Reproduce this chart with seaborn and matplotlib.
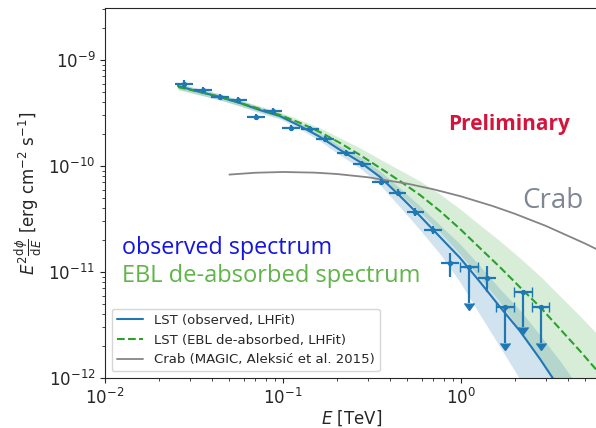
import numpy as np
import pandas as pd
import matplotlib
matplotlib.use("Agg")
import matplotlib.pyplot as plt
import seaborn as sns

# ---------------- data ----------------
# flux points, E [TeV], E^2 dN/dE [erg cm^-2 s^-1]
pt_E = [0.0279, 0.0354, 0.0443, 0.0557, 0.0703, 0.0883, 0.111, 0.142, 0.172,
        0.225, 0.277, 0.353, 0.440, 0.555, 0.698, 0.867, 1.394]
pt_F = [5.90e-10, 5.21e-10, 4.51e-10, 4.20e-10, 2.92e-10, 3.30e-10, 2.27e-10,
        2.22e-10, 1.79e-10, 1.32e-10, 1.04e-10, 7.03e-11, 5.62e-11, 3.66e-11,
        2.49e-11, 1.21e-11, 8.73e-12]
pt_err_lo = [5.0e-11, 3.5e-11, 2.8e-11, 2.5e-11, 1.8e-11, 2.0e-11, 1.4e-11,
             1.3e-11, 1.0e-11, 8.0e-12, 6.5e-12, 4.5e-12, 3.8e-12, 3.0e-12,
             2.2e-12, 3.06e-12, 2.21e-12]
pt_err_hi = [5.5e-11, 3.8e-11, 3.0e-11, 2.7e-11, 1.9e-11, 2.1e-11, 1.5e-11,
             1.4e-11, 1.1e-11, 8.5e-12, 7.0e-12, 5.0e-12, 4.2e-12, 3.3e-12,
             2.4e-12, 2.90e-12, 2.67e-12]
# upper limits
ul_E = [1.113, 1.766, 2.22, 2.80]
ul_F = [1.11e-11, 4.71e-12, 6.43e-12, 4.71e-12]
ul_len = [5.97e-12, 2.56e-12, 3.38e-12, 2.56e-12]

# observed fit (LHFit) and its band
fit_E = [0.0257, 0.0342, 0.0443, 0.0573, 0.0743, 0.0961, 0.1247, 0.1615, 0.209,
         0.271, 0.351, 0.454, 0.589, 0.762, 0.987, 1.279, 1.656, 2.14, 2.78,
         3.60, 4.66]
obs_F = [5.69e-10, 4.99e-10, 4.48e-10, 3.93e-10, 3.37e-10, 2.96e-10, 2.38e-10,
         1.88e-10, 1.42e-10, 1.09e-10, 7.87e-11, 5.21e-11, 3.37e-11, 2.14e-11,
         1.36e-11, 8.05e-12, 4.68e-12, 2.78e-12, 1.51e-12, 7.87e-13, 4.02e-13]
obs_lo = [5.33e-10, 4.68e-10, 4.20e-10, 3.68e-10, 3.16e-10, 2.78e-10, 2.23e-10,
          1.72e-10, 1.27e-10, 9.57e-11, 6.62e-11, 4.10e-11, 2.49e-11, 1.48e-11,
          8.05e-12, 3.94e-12, 1.96e-12, 9.77e-13, 4.57e-13, 2.05e-13, 8.79e-14]
obs_hi = [6.07e-10, 5.32e-10, 4.78e-10, 4.19e-10, 3.60e-10, 3.16e-10, 2.54e-10,
          2.05e-10, 1.55e-10, 1.22e-10, 8.97e-11, 6.19e-11, 4.19e-11, 2.77e-11,
          1.84e-11, 1.14e-11, 6.92e-12, 4.38e-12, 2.54e-12, 1.45e-12, 7.87e-13]

# EBL de-absorbed fit and its band
deabs_E = fit_E + [6.04]
deabs_F = [5.56e-10, 4.99e-10, 4.48e-10, 3.93e-10, 3.45e-10, 3.03e-10, 2.55e-10,
           2.09e-10, 1.65e-10, 1.27e-10, 9.57e-11, 7.21e-11, 5.32e-11, 3.76e-11,
           2.55e-11, 1.68e-11, 1.11e-11, 7.21e-12, 4.68e-12, 2.90e-12, 1.80e-12,
           1.09e-12]
deabs_lo = [5.21e-10, 4.68e-10, 4.20e-10, 3.68e-10, 3.24e-10, 2.84e-10, 2.39e-10,
            1.92e-10, 1.48e-10, 1.09e-10, 7.71e-11, 5.43e-11, 3.68e-11, 2.38e-11,
            1.48e-11, 8.77e-12, 5.21e-12, 2.83e-12, 1.51e-12, 7.87e-13, 4.20e-13,
            2.19e-13]
deabs_hi = [5.93e-10, 5.32e-10, 4.78e-10, 4.19e-10, 3.68e-10, 3.23e-10, 2.72e-10,
            2.29e-10, 1.84e-10, 1.48e-10, 1.16e-10, 9.16e-11, 7.21e-11, 5.43e-11,
            3.94e-11, 2.77e-11, 1.96e-11, 1.36e-11, 9.16e-12, 5.93e-12, 3.85e-12,
            2.44e-12]

# Crab reference spectrum
crab_E = [0.05, 0.07, 0.1, 0.15, 0.2, 0.3, 0.5, 0.7, 1.0, 1.5, 2.0, 3.0, 5.0, 7.0, 10.0]
crab_F = [8.30e-11, 8.64e-11, 8.78e-11, 8.66e-11, 8.41e-11, 7.83e-11, 6.81e-11,
          6.03e-11, 5.17e-11, 4.20e-11, 3.55e-11, 2.72e-11, 1.85e-11, 1.40e-11,
          1.01e-11]

labels = ["LST (observed, LHFit)", "LST (EBL de-absorbed, LHFit)",
          "Crab (MAGIC, Aleksić et al. 2015)"]

# ---------------- style ----------------
sns.set_style("ticks")
plt.rcParams["font.family"] = ["DejaVu Sans"]
plt.rcParams["xtick.direction"] = "out"
plt.rcParams["ytick.direction"] = "out"

BLUE = "#1f77b4"
GREEN = "#2ca02c"
GRAY = "#858585"
BIN_HALF_DEX = 0.05
ANN_FONT = ["Open Sans", "DejaVu Sans"]

fig = plt.figure(figsize=(5.96, 4.28), dpi=100)
ax = fig.add_axes([105 / 596, 50 / 428, 493 / 596, 370 / 428])

# bands
ax.fill_between(fit_E, obs_lo, obs_hi, color=BLUE, alpha=0.2, linewidth=0)
ax.fill_between(deabs_E, deabs_lo, deabs_hi, color=GREEN, alpha=0.18, linewidth=0)

# lines via seaborn
df_obs = pd.DataFrame({"E": fit_E, "F": obs_F})
df_deabs = pd.DataFrame({"E": deabs_E, "F": deabs_F})
df_crab = pd.DataFrame({"E": crab_E, "F": crab_F})
sns.lineplot(data=df_obs, x="E", y="F", ax=ax, color=BLUE, lw=1.5,
             label=labels[0], sort=False)
sns.lineplot(data=df_deabs, x="E", y="F", ax=ax, color=GREEN, lw=1.5,
             linestyle="--", label=labels[1], sort=False)
sns.lineplot(data=df_crab, x="E", y="F", ax=ax, color=GRAY, lw=1.3,
             label=labels[2], sort=False)

# flux points
pE = np.array(pt_E)
xerr = [pE * (1 - 10 ** -BIN_HALF_DEX), pE * (10 ** BIN_HALF_DEX - 1)]
ax.errorbar(pt_E, pt_F, yerr=[pt_err_lo, pt_err_hi], xerr=xerr, fmt="o",
            color=BLUE, ms=2.8, elinewidth=1.6, capsize=0)
uE = np.array(ul_E)
uxerr = [uE * (1 - 10 ** -BIN_HALF_DEX), uE * (10 ** BIN_HALF_DEX - 1)]
ax.errorbar(ul_E, ul_F, yerr=[ul_len, np.zeros(len(ul_len))], xerr=uxerr,
            uplims=True, fmt="o", color=BLUE, ms=2.8, elinewidth=1.6,
            capsize=3.5)

ax.set_xscale("log")
ax.set_yscale("log")
ax.set_xlim(0.01, 10 ** ((598 - 105) / 178 - 2))
ax.set_ylim(1e-12, 10 ** (-9 + 52 / 106))
ax.set_xlabel(r"$E$ [TeV]", fontsize=12, labelpad=0.5)
ax.set_ylabel(r"$E^2\frac{\mathrm{d}\phi}{\mathrm{d}E}$ [erg cm$^{-2}$ s$^{-1}$]",
              fontsize=12, labelpad=2)
ax.tick_params(axis="both", which="major", labelsize=12)

leg = ax.legend(loc="lower left", fontsize=9.5, frameon=True)

# annotations
ax.text(0.819, 0.686, "Preliminary", transform=ax.transAxes, color="#d4143c",
        fontsize=15, fontweight="bold", family=ANN_FONT,
        ha="center", va="center")
ax.text(0.909, 0.478, "Crab", transform=ax.transAxes, color="#7f8694",
        fontsize=20, family=ANN_FONT, ha="center", va="center")
ax.text(0.0345, 0.351, "observed spectrum", transform=ax.transAxes,
        color="#1515e0", fontsize=16.8, family=ANN_FONT, ha="left", va="center")
ax.text(0.0345, 0.276, "EBL de-absorbed spectrum", transform=ax.transAxes,
        color="#5fb548", fontsize=17, family=ANN_FONT, ha="left", va="center")

fig.savefig("out.png", dpi=100)
